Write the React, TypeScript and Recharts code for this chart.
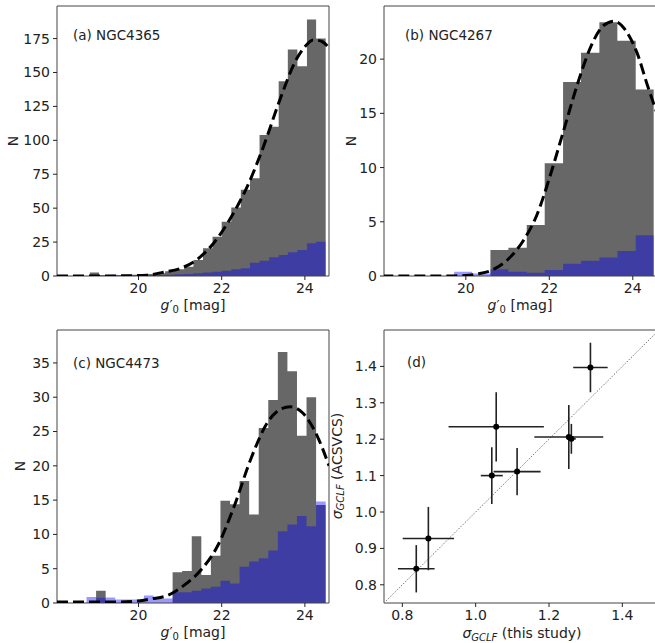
import React from "react";
import {
  ComposedChart, Area, Line, Scatter, ErrorBar, XAxis, YAxis,
  ReferenceArea, ReferenceLine,
} from "recharts";

const FONT = "DejaVu Sans, Verdana, sans-serif";
const GRAY = "#676767";
const BLUE = "#0000ff";

// (a) NGC4365: bin edges, total counts, background counts, fitted curve
const A_EDGES = [18.83, 19.05, 19.28, 19.51, 19.73, 19.96, 20.19, 20.41, 20.64, 20.87, 21.10, 21.32, 21.55, 21.78, 22.00, 22.23, 22.46, 22.68, 22.91, 23.14, 23.37, 23.59, 23.82, 24.05, 24.27, 24.50];
const A_TOTAL = [2.5, 0.5, 0.5, 0.5, 1, 1, 1.5, 2, 3.5, 5, 6.9, 11.8, 20.4, 29, 40, 50.5, 63.5, 72, 104, 110, 143.5, 167, 154.6, 189, 175];
const A_BG = [0.8, 0.5, 1, 0.5, 0.5, 0.5, 0.6, 0.8, 1, 1.3, 1.5, 2, 2.5, 3.2, 3.9, 4.9, 5.7, 9.8, 11.3, 13.8, 15.5, 17.5, 19.2, 24.1, 25.3];
const A_FIT_MAG = [18.04, 19.0, 19.8, 20.2, 20.6, 21.0, 21.4, 21.8, 22.2, 22.6, 23.0, 23.4, 23.8, 24.0, 24.2, 24.4, 24.58];
const A_FIT_N = [0, 0, 0.2, 0.6, 2.8, 5.5, 12, 24, 42, 65, 95, 130, 160, 169, 174, 173, 168];

// (b) NGC4267
const B_EDGES = [19.72, 20.15, 20.59, 21.02, 21.46, 21.89, 22.33, 22.76, 23.20, 23.63, 24.07, 24.50];
const B_TOTAL = [0, 0, 2.4, 2.6, 4.7, 10.4, 17.9, 20.6, 23.4, 21.7, 17.2];
const B_BG = [0.4, 0.22, 0.62, 0.4, 0.3, 0.55, 1.14, 1.4, 1.7, 2.3, 3.75];
const B_FIT_MAG = [18.0, 19.5, 20.0, 20.3, 20.6, 21.0, 21.4, 21.7, 22.0, 22.35, 22.7, 23.0, 23.3, 23.55, 23.8, 24.1, 24.35, 24.58];
const B_FIT_N = [0, 0, 0.05, 0.2, 0.5, 1.5, 3.4, 5.6, 9.0, 13.5, 18.0, 21.2, 23.1, 23.5, 22.8, 20.6, 17.6, 15.0];

// (c) NGC4473
const C_EDGES = [18.75, 18.98, 19.21, 19.44, 19.67, 19.90, 20.13, 20.36, 20.59, 20.82, 21.05, 21.28, 21.51, 21.74, 21.97, 22.20, 22.43, 22.66, 22.89, 23.12, 23.35, 23.58, 23.81, 24.04, 24.27, 24.50];
const C_TOTAL = [0, 1.8, 0, 0, 0, 0, 0, 0, 0, 4.47, 4.67, 9.72, 4.08, 6.88, 14.9, 14.4, 17.8, 12.9, 25.5, 29.6, 36.6, 33.8, 24.4, 30, 14.3];
const C_BG = [0.88, 0.75, 0.8, 0.5, 0.5, 0.5, 1.1, 0.65, 0.65, 1.55, 1.55, 1.77, 2.1, 2.36, 3.24, 2.85, 5.3, 6.04, 6.54, 7.66, 10.46, 11.44, 12.67, 11.2, 14.8];
const C_FIT_MAG = [18.04, 19.5, 20.0, 20.3, 20.7, 21.1, 21.5, 21.9, 22.3, 22.7, 23.1, 23.4, 23.65, 23.95, 24.3, 24.58];
const C_FIT_N = [0.15, 0.15, 0.3, 0.6, 1.1, 2.6, 4.8, 8.3, 14.1, 21, 26.3, 28.2, 28.6, 27.7, 24.3, 20.0];

// (d) sigma_GCLF comparison
const D_THIS = [0.838, 0.871, 1.044, 1.056, 1.113, 1.254, 1.261, 1.313];
const D_ACS = [0.844, 0.927, 1.100, 1.234, 1.111, 1.206, 1.201, 1.397];
const D_THIS_ERR = [0.05, 0.07, 0.03, 0.13, 0.064, 0.094, 0.012, 0.047];
const D_ACS_ERR = [0.065, 0.087, 0.078, 0.095, 0.065, 0.088, 0.041, 0.068];

const MAG_TICKS = [20, 22, 24];
const X_DOMAIN: [number, number] = [18.04, 24.58];

const stepData = (edges: number[], counts: number[]) => {
  const pts = counts.map((c, i) => ({ x: edges[i], y: c }));
  pts.push({ x: edges[edges.length - 1], y: counts[counts.length - 1] });
  return pts;
};

const curveData = (mags: number[], ns: number[]) => mags.map((m, i) => ({ x: m, y: ns[i] }));

const tick = { fontSize: 14, fill: "#222", fontFamily: FONT };
const tickLine = { stroke: "#222" };

function HistPanel({ left, top, width, height, yMax, yTicks, edges, total, bg, fitMag, fitN }: any) {
  return (
    <div style={{ position: "absolute", left, top }}>
      <ComposedChart width={width} height={height} margin={{ top: 6, right: 1, bottom: 14, left: 0 }}>
        <XAxis type="number" dataKey="x" domain={X_DOMAIN} ticks={MAG_TICKS} allowDataOverflow
          height={30} tick={tick} tickSize={4} tickMargin={3} axisLine={false} tickLine={tickLine} />
        <YAxis type="number" dataKey="y" domain={[0, yMax]} ticks={yTicks} allowDataOverflow
          width={57} tick={tick} tickSize={4} tickMargin={3} axisLine={false} tickLine={tickLine} />
        <Area data={stepData(edges, total)} dataKey="y" type="stepAfter" fill={GRAY} fillOpacity={1}
          stroke="none" isAnimationActive={false} />
        <Area data={stepData(edges, bg)} dataKey="y" type="stepAfter" fill={BLUE} fillOpacity={0.4}
          stroke="none" isAnimationActive={false} />
        <Line data={curveData(fitMag, fitN)} dataKey="y" type="monotone" stroke="#000" strokeWidth={3}
          strokeDasharray="11 5" dot={false} isAnimationActive={false} />
        <ReferenceArea x1={X_DOMAIN[0]} x2={X_DOMAIN[1]} y1={0} y2={yMax} fill="none" fillOpacity={0}
          stroke="#444" strokeWidth={1} ifOverflow="visible" />
      </ComposedChart>
    </div>
  );
}

const dPoints = D_THIS.map((x, i) => ({ x, y: D_ACS[i], ex: D_THIS_ERR[i], ey: D_ACS_ERR[i] }));
const fmt1 = (v: number) => v.toFixed(1);

function SigmaPanel() {
  return (
    <div style={{ position: "absolute", left: 327, top: 324 }}>
      <ComposedChart width={333} height={323} margin={{ top: 6, right: 1, bottom: 14, left: 0 }}>
        <XAxis type="number" dataKey="x" domain={[0.75, 1.5]} ticks={[0.8, 1.0, 1.2, 1.4]} tickFormatter={fmt1}
          allowDataOverflow height={30} tick={tick} tickSize={4} tickMargin={3} axisLine={false} tickLine={tickLine} />
        <YAxis type="number" dataKey="y" domain={[0.75, 1.5]} ticks={[0.8, 0.9, 1.0, 1.1, 1.2, 1.3, 1.4]}
          tickFormatter={fmt1} allowDataOverflow width={57} tick={tick} tickSize={4} tickMargin={3}
          axisLine={false} tickLine={tickLine} />
        <ReferenceLine segment={[{ x: 0.75, y: 0.75 }, { x: 1.5, y: 1.5 }]} stroke="#777" strokeWidth={1}
          strokeDasharray="1.5 1.5" />
        <Scatter data={dPoints} isAnimationActive={false}
          shape={(p: any) => <circle cx={p.cx} cy={p.cy} r={3} fill="#000" />}>
          <ErrorBar dataKey="ex" direction="x" width={0} stroke="#222" strokeWidth={1.6} />
          <ErrorBar dataKey="ey" direction="y" width={0} stroke="#222" strokeWidth={1.6} />
        </Scatter>
        <ReferenceArea x1={0.75} x2={1.5} y1={0.75} y2={1.5} fill="none" fillOpacity={0}
          stroke="#444" strokeWidth={1} ifOverflow="visible" />
      </ComposedChart>
    </div>
  );
}

function MagLabel({ x, y }: { x: number; y: number }) {
  return (
    <text x={x} y={y} textAnchor="middle" fontSize={14} fill="#222">
      <tspan fontStyle="italic">g</tspan>
      <tspan>′</tspan>
      <tspan fontSize={10} dy={3}>0</tspan>
      <tspan dy={-3}> [mag]</tspan>
    </text>
  );
}

function SigmaText({ tail }: { tail: string }) {
  return (
    <>
      <tspan fontStyle="italic">σ</tspan>
      <tspan fontStyle="italic" fontSize={10} dy={3}>GCLF</tspan>
      <tspan dy={-3}>{tail}</tspan>
    </>
  );
}

function Labels() {
  return (
    <svg width={655} height={643} style={{ position: "absolute", left: 0, top: 0, pointerEvents: "none" }}
      fontFamily={FONT}>
      <g fontSize={13.5} fill="#222">
        <text x={73} y={40}>(a) NGC4365</text>
        <text x={405} y={40}>(b) NGC4267</text>
        <text x={73} y={368}>(c) NGC4473</text>
        <text x={407} y={367}>(d)</text>
      </g>
      <g fontSize={14} fill="#222">
        <text transform="translate(13,141) rotate(-90)" textAnchor="middle" dominantBaseline="central">N</text>
        <text transform="translate(351,141) rotate(-90)" textAnchor="middle" dominantBaseline="central">N</text>
        <text transform="translate(20,466) rotate(-90)" textAnchor="middle" dominantBaseline="central">N</text>
        <text transform="translate(337,466) rotate(-90)" textAnchor="middle" dominantBaseline="central">
          <SigmaText tail=" (ACSVCS)" />
        </text>
        <text x={522} y={638} textAnchor="middle"><SigmaText tail=" (this study)" /></text>
      </g>
      <MagLabel x={193} y={310} />
      <MagLabel x={520} y={310} />
      <MagLabel x={193} y={637} />
    </svg>
  );
}

export default function App() {
  return (
    <div style={{ position: "absolute", left: 0, top: 0, width: 655, height: 643, overflow: "hidden",
      background: "#fff", fontFamily: FONT }}>
      <HistPanel left={0} top={0} width={330} height={320} yMax={199} yTicks={[0, 25, 50, 75, 100, 125, 150, 175]}
        edges={A_EDGES} total={A_TOTAL} bg={A_BG} fitMag={A_FIT_MAG} fitN={A_FIT_N} />
      <HistPanel left={327} top={0} width={331} height={320} yMax={24.9} yTicks={[0, 5, 10, 15, 20]}
        edges={B_EDGES} total={B_TOTAL} bg={B_BG} fitMag={B_FIT_MAG} fitN={B_FIT_N} />
      <HistPanel left={0} top={324} width={330} height={323} yMax={39.8} yTicks={[0, 5, 10, 15, 20, 25, 30, 35]}
        edges={C_EDGES} total={C_TOTAL} bg={C_BG} fitMag={C_FIT_MAG} fitN={C_FIT_N} />
      <SigmaPanel />
      <Labels />
    </div>
  );
}
